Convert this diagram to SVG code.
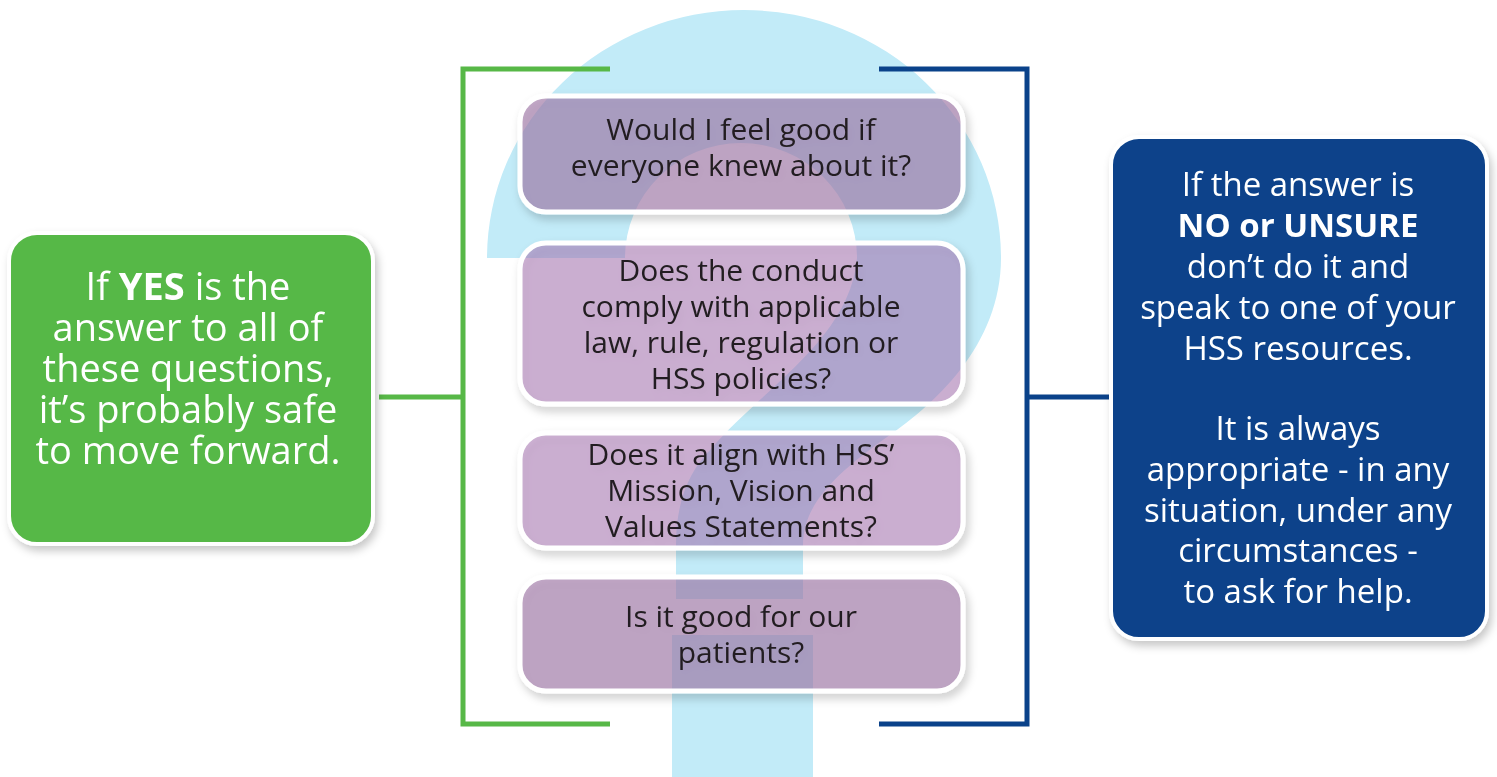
<svg xmlns="http://www.w3.org/2000/svg" width="1497" height="777" viewBox="0 0 1497 777">
<defs>
<filter id="sh" x="-10%" y="-10%" width="125%" height="130%">
<feDropShadow dx="3" dy="5" stdDeviation="4" flood-color="#000" flood-opacity="0.22"/>
</filter>
<style>
.q{font-family:"Open Sans","Liberation Sans",sans-serif;font-size:30px;fill:#231f20;text-anchor:middle}
.w{font-family:"Open Sans","Liberation Sans",sans-serif;fill:#ffffff;text-anchor:middle}
.boxA{fill:rgb(160,118,168);fill-opacity:0.6;stroke:#ffffff;stroke-width:5}
.boxB{fill:rgb(167,115,179);fill-opacity:0.5;stroke:#ffffff;stroke-width:5}
.g{stroke:#57b847;stroke-width:5;fill:none}
.b{stroke:#0a428a;stroke-width:5;fill:none}
</style>
</defs>
<rect width="1497" height="777" fill="#ffffff"/>
<path id="qmark" fill="#c2ebf8" d="M487,258 A257,248 0 0 1 1001,258 C1001,345 935,405 880,442 C835,475 803,505 803,545 L803,599 L676,599 L676,545 C676,500 690,470 711,449 C760,390 850,340 857,258 A116,115 0 0 0 625,258 Z"/>
<rect id="qdot" x="672" y="635" width="141" height="142" fill="#c2ebf8"/>
<g id="connectors">
<polyline class="g" points="610,69 463,69 463,724 610,724"/>
<line class="g" x1="379" y1="397" x2="463" y2="397"/>
<polyline class="b" points="879,69 1027,69 1027,724 879,724"/>
<line class="b" x1="1027" y1="397" x2="1111" y2="397"/>
</g>
<g id="q1" filter="url(#sh)">
<rect class="boxA" x="520" y="96" width="443" height="116" rx="26"/>
<text class="q" x="741" y="140">Would I feel good if</text>
<text class="q" x="741" y="176">everyone knew about it?</text>
</g>
<g id="q2" filter="url(#sh)">
<rect class="boxB" x="520" y="243" width="443" height="161" rx="26"/>
<text class="q" x="741" y="281">Does the conduct</text>
<text class="q" x="741" y="317">comply with applicable</text>
<text class="q" x="741" y="353">law, rule, regulation or</text>
<text class="q" x="741" y="389">HSS policies?</text>
</g>
<g id="q3" filter="url(#sh)">
<rect class="boxB" x="520" y="433" width="443" height="115" rx="26"/>
<text class="q" x="741" y="465">Does it align with HSS’</text>
<text class="q" x="741" y="501">Mission, Vision and</text>
<text class="q" x="741" y="537">Values Statements?</text>
</g>
<g id="q4" filter="url(#sh)">
<rect class="boxA" x="520" y="577" width="443" height="114" rx="26"/>
<text class="q" x="741" y="627">Is it good for our</text>
<text class="q" x="741" y="663">patients?</text>
</g>
<g id="yes" filter="url(#sh)">
<rect x="9" y="233" width="364" height="311" rx="28" fill="#57b847" stroke="#ffffff" stroke-width="4"/>
<g class="w" font-size="38">
<text x="188" y="300">If <tspan font-weight="bold">YES</tspan> is the</text>
<text x="188" y="341">answer to all of</text>
<text x="188" y="382">these questions,</text>
<text x="188" y="423">it’s probably safe</text>
<text x="188" y="464">to move forward.</text>
</g>
</g>
<g id="no" filter="url(#sh)">
<rect x="1111" y="137" width="376" height="502" rx="28" fill="#0a428a" stroke="#ffffff" stroke-width="4"/>
<g class="w" font-size="33">
<text x="1298" y="196">If the answer is</text>
<text x="1298" y="237" font-weight="bold">NO or UNSURE</text>
<text x="1298" y="278">don’t do it and</text>
<text x="1298" y="319">speak to one of your</text>
<text x="1298" y="360">HSS resources.</text>
<text x="1298" y="440">It is always</text>
<text x="1298" y="481">appropriate - in any</text>
<text x="1298" y="522">situation, under any</text>
<text x="1298" y="562">circumstances -</text>
<text x="1298" y="603">to ask for help.</text>
</g>
</g>
</svg>
